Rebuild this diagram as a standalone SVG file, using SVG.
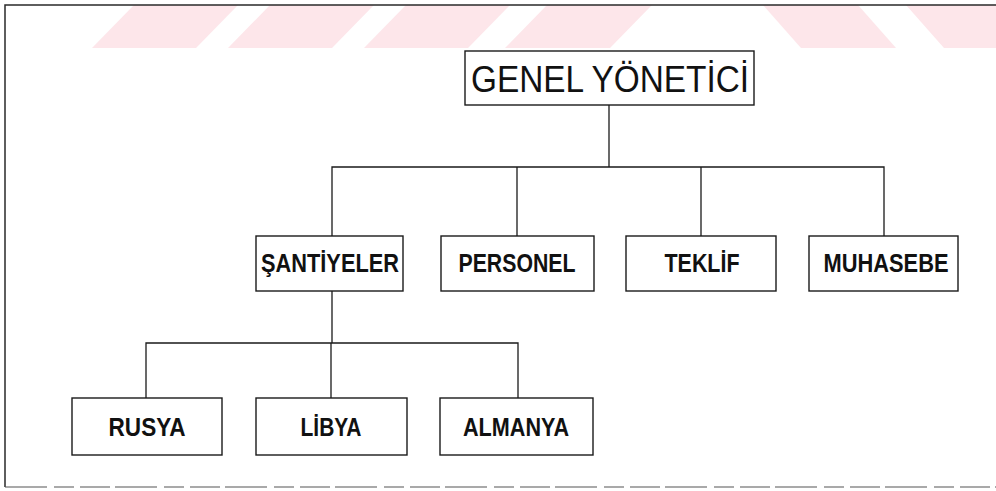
<svg xmlns="http://www.w3.org/2000/svg" width="996" height="491" viewBox="0 0 996 491">
  <style>
    .box { fill: #ffffff; stroke: #1a1a1a; stroke-width: 1.4; }
    .wire { fill: none; stroke: #1a1a1a; stroke-width: 1.3; }
    .frame { fill: none; stroke: #2a2a2a; stroke-width: 1.5; }
    .band { fill: #fde6ea; }
    .head { font-family: "Liberation Sans", Arial, sans-serif; font-size: 36px; fill: #111; text-anchor: middle; }
    .lbl { font-family: "Liberation Sans", Arial, sans-serif; font-size: 25px; font-weight: bold; fill: #111; text-anchor: middle; }
  </style>

  <rect x="0" y="0" width="996" height="491" fill="#ffffff"/>

  <!-- pale diagonal bands along the top edge -->
  <g id="bands">
    <polygon class="band" points="92,48 196,48 238,5 134,5"/>
    <polygon class="band" points="228,48 332,48 374,5 270,5"/>
    <polygon class="band" points="364,48 468,48 510,5 406,5"/>
    <polygon class="band" points="505,48 610,48 652,5 547,5"/>
    <polygon class="band" points="763,5 858,5 896,48 801,48"/>
    <polygon class="band" points="906,5 1001,5 1039,48 944,48"/>
  </g>

  <!-- page frame -->
  <path class="frame" d="M996,5 H5 V487"/>
  <path d="M5,487 H996" fill="none" stroke="#555" stroke-width="1.2" stroke-dasharray="42 7 20 6 30 5"/>

  <!-- connectors -->
  <g id="connectors">
    <path class="wire" d="M609,105 V167"/>
    <path class="wire" d="M332,236 V167 H884 V236"/>
    <path class="wire" d="M517,167 V236"/>
    <path class="wire" d="M701,167 V236"/>
    <path class="wire" d="M332,291 V343"/>
    <path class="wire" d="M146,398 V343 H518 V398"/>
    <path class="wire" d="M331,343 V398"/>
  </g>

  <g id="genel-yonetici">
    <rect class="box" x="465" y="51" width="289" height="54"/>
    <text class="head" x="610" y="92" textLength="278" lengthAdjust="spacingAndGlyphs">GENEL YÖNETİCİ</text>
  </g>

  <g id="santiyeler">
    <rect class="box" x="256" y="236" width="147" height="55"/>
    <text class="lbl" x="330" y="272" textLength="138" lengthAdjust="spacingAndGlyphs">ŞANTİYELER</text>
  </g>

  <g id="personel">
    <rect class="box" x="441" y="236" width="153" height="55"/>
    <text class="lbl" x="517" y="272" textLength="117" lengthAdjust="spacingAndGlyphs">PERSONEL</text>
  </g>

  <g id="teklif">
    <rect class="box" x="626" y="236" width="150" height="55"/>
    <text class="lbl" x="702" y="272" textLength="75" lengthAdjust="spacingAndGlyphs">TEKLİF</text>
  </g>

  <g id="muhasebe">
    <rect class="box" x="809" y="236" width="149" height="55"/>
    <text class="lbl" x="886" y="272" textLength="125" lengthAdjust="spacingAndGlyphs">MUHASEBE</text>
  </g>

  <g id="rusya">
    <rect class="box" x="72" y="398" width="150" height="57"/>
    <text class="lbl" x="147" y="436" textLength="77" lengthAdjust="spacingAndGlyphs">RUSYA</text>
  </g>

  <g id="libya">
    <rect class="box" x="256" y="398" width="151" height="57"/>
    <text class="lbl" x="331" y="436" textLength="61" lengthAdjust="spacingAndGlyphs">LİBYA</text>
  </g>

  <g id="almanya">
    <rect class="box" x="440" y="398" width="153" height="57"/>
    <text class="lbl" x="516" y="436" textLength="106" lengthAdjust="spacingAndGlyphs">ALMANYA</text>
  </g>
</svg>
